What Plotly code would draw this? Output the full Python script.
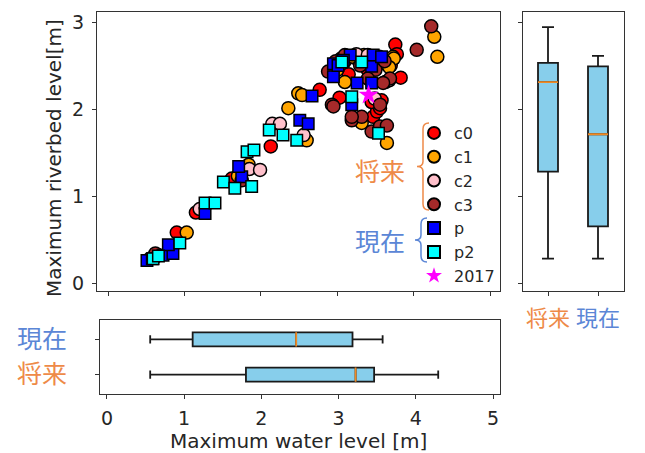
import plotly.graph_objects as go

W, H = 645, 453

# ---------------- data ----------------
c0_x = [0.55, 0.90, 1.15, 1.62, 2.13, 2.77, 3.03, 3.10, 3.25, 3.40, 3.47, 3.52, 3.56, 3.45, 3.58, 3.62, 3.76, 3.78, 3.83, 3.70, 2.95, 3.15]
c0_y = [0.28, 0.58, 0.81, 1.20, 1.57, 2.22, 2.13, 2.55, 2.58, 2.45, 1.91, 1.97, 2.01, 2.08, 2.10, 2.57, 2.74, 2.63, 2.36, 2.50, 2.45, 2.40]

c1_x = [0.62, 1.03, 1.70, 1.84, 2.36, 2.49, 2.54, 2.60, 3.10, 3.32, 3.65, 3.73, 3.74, 4.27, 4.31, 3.20, 3.35, 3.55, 3.68, 3.00]
c1_y = [0.30, 0.58, 1.23, 1.36, 2.01, 2.18, 2.16, 1.64, 2.31, 1.84, 1.61, 2.60, 2.58, 2.83, 2.60, 2.60, 2.62, 2.52, 2.48, 2.45]

c2_x = [0.66, 1.85, 1.99, 2.15, 2.25, 2.56, 3.49, 3.63, 3.68, 3.25, 3.40, 3.05, 3.55, 1.20]
c2_y = [0.32, 1.31, 1.30, 1.83, 1.83, 1.70, 2.12, 2.31, 2.33, 2.63, 2.62, 2.58, 2.60, 0.85]

c3_x = [0.62, 2.88, 2.93, 2.95, 3.19, 3.32, 3.19, 3.45, 3.56, 3.65, 3.56, 3.69, 4.04, 4.23, 2.98, 3.10, 3.30, 3.50, 3.62, 3.40, 3.60, 1.75]
c3_y = [0.34, 2.43, 2.05, 2.03, 1.87, 1.91, 1.91, 1.74, 1.80, 1.81, 2.05, 2.35, 2.68, 2.95, 2.55, 2.62, 2.50, 2.45, 2.55, 2.35, 2.30, 1.18]

p_x = [0.51, 0.72, 0.85, 0.79, 1.27, 1.75, 1.71, 2.51, 2.62, 2.67, 2.95, 2.95, 3.17, 3.45, 3.47, 3.58, 3.26, 3.45, 3.19, 3.01, 3.08, 0.58]
p_y = [0.26, 0.32, 0.34, 0.44, 0.80, 1.22, 1.34, 1.87, 1.83, 2.15, 2.37, 2.52, 2.62, 2.49, 2.62, 2.60, 2.30, 2.30, 2.05, 2.50, 2.56, 0.28]

p2_x = [0.59, 0.66, 0.94, 1.27, 1.40, 1.51, 1.66, 1.88, 1.82, 1.91, 2.11, 2.29, 2.47, 3.06, 3.32, 3.19, 3.54]
p2_y = [0.28, 0.31, 0.46, 0.92, 0.92, 1.16, 1.09, 1.11, 1.51, 1.53, 1.76, 1.70, 1.64, 2.54, 2.54, 2.14, 1.72]

y2017_x = [3.41]
y2017_y = [2.16]

# box statistics: [将来 (future), 現在 (present)]
groups = ["将来", "現在"]
riverbed_low = [0.28, 0.28]
riverbed_q1 = [1.28, 0.65]
riverbed_med = [2.31, 1.71]
riverbed_q3 = [2.53, 2.49]
riverbed_high = [2.94, 2.61]

water_low = [0.56, 0.56]
water_q1 = [1.80, 1.11]
water_med = [3.22, 2.45]
water_q3 = [3.46, 3.18]
water_high = [4.29, 3.57]

x_ticks = [0, 1, 2, 3, 4, 5]
y_ticks = [0, 1, 2, 3]

# ---------------- styling ----------------
ORANGE_TXT = "#EE8A48"
BLUE_TXT = "#5B86D6"
FONT = "DejaVu Sans, Noto Sans CJK JP"
CJK = "Noto Sans CJK JP"
AX = "#333333"
TXT = "#262626"


def px(x):
    return x / W


def py(y):
    return 1 - y / H


fig = go.Figure()

series = [
    ("c0", c0_x, c0_y, "red", "circle", 13),
    ("c1", c1_x, c1_y, "orange", "circle", 13),
    ("c2", c2_x, c2_y, "pink", "circle", 13),
    ("c3", c3_x, c3_y, "brown", "circle", 13),
    ("p", p_x, p_y, "blue", "square", 11.5),
    ("p2", p2_x, p2_y, "cyan", "square", 11.5),
]
for name, xs, ys, col, sym, sz in series:
    fig.add_trace(go.Scatter(
        x=xs, y=ys, mode="markers", name=name,
        marker=dict(color=col, symbol=sym, size=sz, line=dict(color="black", width=1.5)),
        xaxis="x", yaxis="y"))
fig.add_trace(go.Scatter(
    x=y2017_x, y=y2017_y, mode="markers", name="2017",
    marker=dict(color="magenta", symbol="star", size=15, line=dict(width=0)),
    xaxis="x", yaxis="y"))

pos = [1, 2]
BOXLINE = dict(color="#1a1a1a", width=1.8)
MEDLINE = dict(color="#F08A24", width=1.8)
# right box plot (riverbed level)
fig.add_trace(go.Box(
    x=pos, q1=riverbed_q1, median=riverbed_med, q3=riverbed_q3,
    lowerfence=riverbed_low, upperfence=riverbed_high,
    width=0.4, whiskerwidth=0.6, fillcolor="skyblue",
    line=BOXLINE, showlegend=False,
    xaxis="x2", yaxis="y2", orientation="v", boxpoints=False))
fig.add_trace(go.Box(
    x=pos, q1=riverbed_med, median=riverbed_med, q3=riverbed_med,
    lowerfence=riverbed_med, upperfence=riverbed_med,
    width=0.4, whiskerwidth=0, fillcolor="rgba(0,0,0,0)",
    line=MEDLINE, showlegend=False,
    xaxis="x2", yaxis="y2", orientation="v", boxpoints=False))

# bottom box plot (water level)
fig.add_trace(go.Box(
    y=pos, q1=water_q1, median=water_med, q3=water_q3,
    lowerfence=water_low, upperfence=water_high,
    width=0.4, whiskerwidth=0.6, fillcolor="skyblue",
    line=BOXLINE, showlegend=False,
    xaxis="x3", yaxis="y3", orientation="h", boxpoints=False))
fig.add_trace(go.Box(
    y=pos, q1=water_med, median=water_med, q3=water_med,
    lowerfence=water_med, upperfence=water_med,
    width=0.4, whiskerwidth=0, fillcolor="rgba(0,0,0,0)",
    line=MEDLINE, showlegend=False,
    xaxis="x3", yaxis="y3", orientation="h", boxpoints=False))

axis_common = dict(showline=True, mirror=True, linecolor=AX, linewidth=1.2,
                   ticks="outside", ticklen=4, tickcolor=AX, tickwidth=1.2,
                   showgrid=False, zeroline=False, automargin=False,
                   tickfont=dict(family=FONT, size=19, color=TXT))

tick_labels_cat = [f'<span style="color:{ORANGE_TXT}">{groups[0]}</span>',
                   f'<span style="color:{BLUE_TXT}">{groups[1]}</span>']

fig.update_layout(
    width=W, height=H,
    margin=dict(l=0, r=0, t=0, b=0, autoexpand=False),
    paper_bgcolor="white", plot_bgcolor="white",
    font=dict(family=FONT, size=15, color=TXT),
    xaxis=dict(domain=[px(97), px(500)], range=[-0.144, 5.13], tickvals=x_ticks,
               showticklabels=False, anchor="y", **axis_common),
    yaxis=dict(domain=[py(291), py(12)], range=[-0.092, 3.115], tickvals=y_ticks,
               anchor="x", ticklabelstandoff=4, **axis_common),
    xaxis2=dict(domain=[px(523), px(624)], range=[0.5, 2.52], tickvals=pos,
                ticktext=tick_labels_cat, anchor="y2", ticklabelstandoff=3, tickangle=0,
                **{**axis_common, "tickfont": dict(family=CJK, size=22)}),
    yaxis2=dict(domain=[py(291), py(12)], range=[-0.092, 3.115], tickvals=y_ticks,
                showticklabels=False, anchor="x2", **axis_common),
    xaxis3=dict(domain=[px(100), px(500)], range=[-0.09, 5.09], tickvals=x_ticks,
                anchor="y3", ticklabelstandoff=3, **axis_common),
    yaxis3=dict(domain=[py(394), py(320)], range=[0.45, 2.55], tickvals=pos,
                ticktext=tick_labels_cat, anchor="x3", ticklabelstandoff=23, tickangle=0,
                **{**axis_common, "tickfont": dict(family=CJK, size=25)}),
    legend=dict(x=px(414), y=py(116), xanchor="left", yanchor="top",
                bgcolor="rgba(0,0,0,0)", borderwidth=0,
                font=dict(family=FONT, size=16, color=TXT),
                itemsizing="constant"),
    showlegend=True,
)


def brace(x, y0, y1, color):
    m = (y0 + y1) / 2
    pts = [("M", [(x + 6, y0)]), ("Q", [(x, y0), (x, y0 + 6)]), ("L", [(x, m - 5)]),
           ("Q", [(x, m), (x - 6, m)]), ("Q", [(x, m), (x, m + 5)]), ("L", [(x, y1 - 6)]),
           ("Q", [(x, y1), (x + 6, y1)])]
    s = ""
    for cmd, cs in pts:
        s += cmd + " " + " ".join(f"{px(a):.5f},{py(b):.5f}" for a, b in cs) + " "
    return dict(type="path", path=s.strip(), xref="paper", yref="paper",
                line=dict(color=color, width=1.5))


fig.add_shape(**brace(423, 123, 210, ORANGE_TXT))
fig.add_shape(**brace(421, 218, 262, BLUE_TXT))

ann = dict(xref="paper", yref="paper", showarrow=False, xanchor="center", yanchor="middle")
fig.add_annotation(x=px(380), y=py(170), text="将来",
                   font=dict(family=CJK, size=25, color=ORANGE_TXT), **ann)
fig.add_annotation(x=px(380), y=py(240), text="現在",
                   font=dict(family=CJK, size=25, color=BLUE_TXT), **ann)
fig.add_annotation(x=px(54), y=py(158), text="Maximum riverbed level[m]", textangle=-90,
                   font=dict(family=FONT, size=20, color=TXT), **ann)
fig.add_annotation(x=px(298), y=py(441), text="Maximum water level [m]",
                   font=dict(family=FONT, size=20, color=TXT), **ann)

fig.write_html("out.html", post_script="document.body.style.margin='0';",
               config={"displayModeBar": False})
